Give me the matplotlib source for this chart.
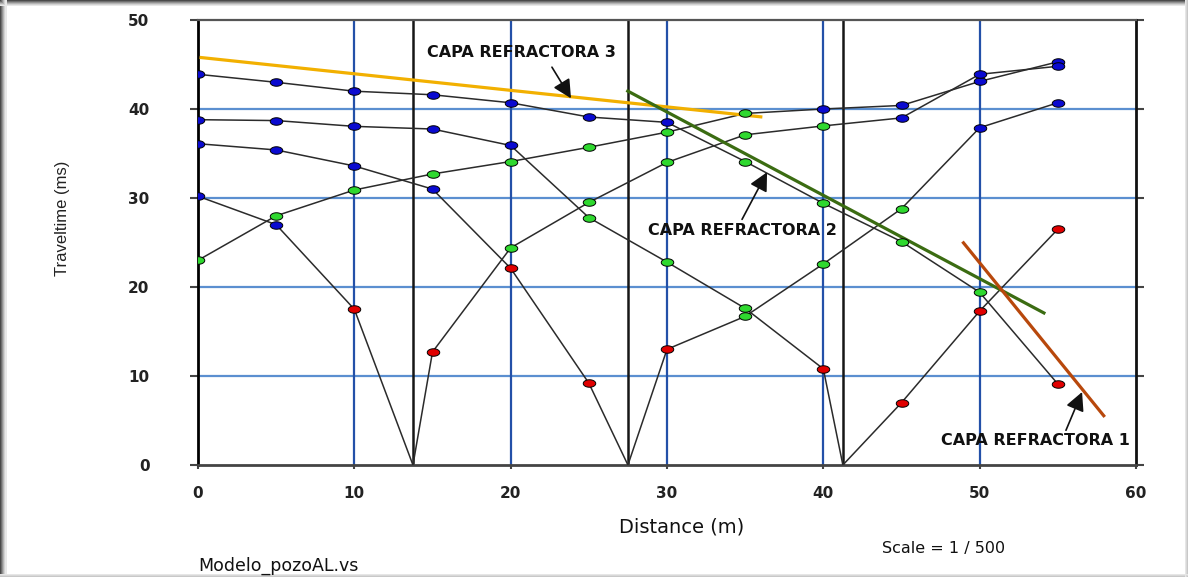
import matplotlib
matplotlib.use('Agg')
import matplotlib.pyplot as plt
import matplotlib.font_manager as fm
from matplotlib.path import Path
from matplotlib.patches import Rectangle
import numpy as np

# geophones and shot points (m)
geophones = [0, 5, 10, 15, 20, 25, 30, 35, 40, 45, 50, 55]
shots = [13.75, 27.5, 41.25]

# off-end shots (left and right of the line), traveltimes in ms
t_fwd = [23.0, 28.0, 30.9, 32.7, 34.1, 35.7, 37.4, 39.5, 40.0, 40.4, 43.1, 45.3]
lay_fwd = [2, 2, 2, 2, 2, 2, 2, 2, 3, 3, 3, 3]
t_rev = [43.9, 43.0, 42.0, 41.6, 40.7, 39.1, 38.5, 34.1, 29.4, 25.1, 19.4, 9.1]
lay_rev = [3, 3, 3, 3, 3, 3, 3, 2, 2, 2, 2, 1]

# shots inside the spread (source point has t = 0, layer 0 = no marker)
t_s1 = [30.2, 27.0, 17.5, 0, 12.7, 24.4, 29.5, 34.0, 37.1, 38.1, 39.0, 43.9, 44.8]
lay_s1 = [3, 3, 1, 0, 1, 2, 2, 2, 2, 2, 3, 3, 3]
t_s2 = [36.1, 35.4, 33.6, 31.0, 22.1, 9.2, 0, 13.0, 16.7, 22.6, 28.8, 37.9, 40.7]
lay_s2 = [3, 3, 3, 3, 1, 1, 0, 1, 2, 2, 2, 3, 3]
t_s3 = [38.8, 38.7, 38.05, 37.75, 35.9, 27.8, 22.8, 17.6, 10.8, 0, 7.0, 17.3, 26.5]
lay_s3 = [3, 3, 3, 3, 3, 2, 2, 2, 1, 0, 1, 1, 1]

# refractor lines drawn by hand
ref3_x, ref3_t = [0.1, 36.1], [45.8, 39.1]
ref2_x, ref2_t = [27.4, 54.2], [42.1, 17.0]
ref1_x, ref1_t = [48.9, 58.0], [25.1, 5.4]

labels = ['CAPA REFRACTORA 3', 'CAPA REFRACTORA 2', 'CAPA REFRACTORA 1']
label_pos = [(20.66, 46.4), (34.8, 26.4), (53.55, 2.8)]
arrow_tail = [(22.64, 44.7), (34.8, 27.6), (55.52, 3.9)]
arrow_head = [(23.86, 41.2), (36.4, 32.9), (56.55, 8.2)]

W, H = 1188, 577
fig = plt.figure(figsize=(W / 100, H / 100), dpi=100)
fig.patch.set_facecolor('white')

# shadow frame round the picture
for i, g in enumerate(['#4a4a4a', '#6e6e6e', '#929292', '#b4b4b4', '#d2d2d2', '#e8e8e8']):
    fig.add_artist(Rectangle((i / W, 0), 1.5 / W, 1, transform=fig.transFigure, color=g, lw=0))
    fig.add_artist(Rectangle((0, 1 - (i + 1.2) / H), 1, 1.2 / H, transform=fig.transFigure, color=g, lw=0))
for i, g in enumerate(['#c8c8c8', '#d8d8d8', '#e6e6e6']):
    fig.add_artist(Rectangle((0, i / H), 1, 1.2 / H, transform=fig.transFigure, color=g, lw=0))
    fig.add_artist(Rectangle((1 - (i + 1.2) / W, 0), 1.2 / W, 1, transform=fig.transFigure, color=g, lw=0))

ax = fig.add_axes([198 / W, 1 - 465 / H, (1136 - 198) / W, 445 / H])
ax.set_xlim(0, 60)
ax.set_ylim(0, 50)

# grid
for y in [10, 20, 30, 40]:
    ax.axhline(y, color='#5b8fd0', lw=1.6, zorder=1)
for x in [10, 20, 30, 40, 50]:
    ax.axvline(x, color='#2350a8', lw=1.6, zorder=1.2)
for s in shots:
    ax.axvline(s, color='#161616', lw=1.8, zorder=1.4)

# ellipse marker
th = np.linspace(0, 2 * np.pi, 41)
ell = Path(np.column_stack([np.cos(th), 0.6 * np.sin(th)]), closed=True)
layer_colors = {1: '#e00000', 2: '#2fd82f', 3: '#0a0ad0'}

curves = [
    (geophones, t_fwd, lay_fwd),
    (geophones, t_rev, lay_rev),
    (sorted(geophones + [shots[0]]), t_s1, lay_s1),
    (sorted(geophones + [shots[1]]), t_s2, lay_s2),
    (sorted(geophones + [shots[2]]), t_s3, lay_s3),
]
for cx, ct, cl in curves:
    cx, ct, cl = np.array(cx), np.array(ct), np.array(cl)
    ax.plot(cx, ct, color='#2b2b2b', lw=1.1, zorder=3)
    for layer, col in layer_colors.items():
        sel = cl == layer
        ax.plot(cx[sel], ct[sel], ls='none', marker=ell, ms=9, mfc=col,
                mec='black', mew=0.7, zorder=5)

# refractors
ax.plot(ref3_x, ref3_t, color='#f2b000', lw=2.3, zorder=4, solid_capstyle='butt')
ax.plot(ref2_x, ref2_t, color='#3b6c12', lw=2.3, zorder=4, solid_capstyle='butt')
ax.plot(ref1_x, ref1_t, color='#b8480c', lw=2.3, zorder=4, solid_capstyle='butt')

for lab, pos, tail, head in zip(labels, label_pos, arrow_tail, arrow_head):
    ax.text(pos[0], pos[1], lab, ha='center', va='center', fontsize=11.5,
            fontweight='bold', family='DejaVu Sans', color='#111111', zorder=6)
    ax.annotate('', xy=head, xytext=tail, zorder=6,
                arrowprops=dict(arrowstyle='-|>,head_length=0.75,head_width=0.38',
                                mutation_scale=15, color='#111111', lw=1.2,
                                shrinkA=0, shrinkB=0))

# axes frame
ax.spines['left'].set_color('black')
ax.spines['left'].set_linewidth(2)
ax.spines['right'].set_color('#111111')
ax.spines['right'].set_linewidth(2)
ax.spines['bottom'].set_color('#444444')
ax.spines['bottom'].set_linewidth(2)
ax.spines['top'].set_color('#555555')
ax.spines['top'].set_linewidth(1.6)

ax.set_xticks(range(0, 61, 10))
ax.set_yticks(range(0, 51, 10))
ax.tick_params(axis='y', which='both', left=True, right=True, direction='out',
               length=6, width=1.5, color='#444444', pad=29)
ax.tick_params(axis='x', direction='out', length=3, width=1.5, color='#444444', pad=12)
for t in ax.get_xticklabels() + ax.get_yticklabels():
    t.set_fontsize(11)
    t.set_fontweight('bold')
    t.set_family('DejaVu Sans')
    t.set_color('#222222')

names = {f.name for f in fm.fontManager.ttflist}
if 'Liberation Sans Narrow' in names:
    fig.text(63 / W, 1 - 218 / H, 'Traveltime (ms)', rotation=90, ha='center', va='center',
             family='Liberation Sans Narrow', fontsize=14, color='#222222')
else:
    fig.text(63 / W, 1 - 218 / H, 'Traveltime (ms)', rotation=90, ha='center', va='center',
             family='Liberation Sans', fontsize=12, color='#222222')

fig.text(682 / W, 1 - 527 / H, 'Distance (m)', ha='center', va='center',
         family='DejaVu Sans', fontsize=14, color='#111111')
fig.text(944 / W, 1 - 548 / H, 'Scale = 1 / 500', ha='center', va='center',
         family='DejaVu Sans', fontsize=11.5, color='#111111')
fig.text(198 / W, 1 - 566 / H, 'Modelo_pozoAL.vs', ha='left', va='center',
         family='DejaVu Sans', fontsize=12.5, color='#111111')

fig.savefig('out.png', dpi=100)
